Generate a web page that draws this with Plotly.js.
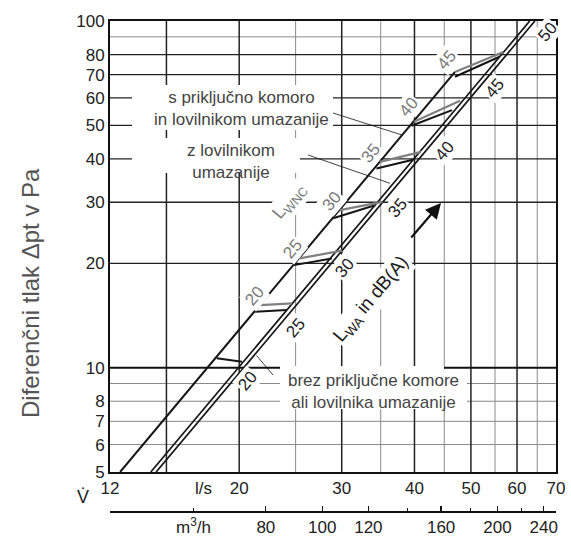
<!DOCTYPE html>
<html><head><meta charset="utf-8">
<script src="https://cdn.plot.ly/plotly-3.0.1.min.js"></script>
<style>html,body{margin:0;padding:0;background:#fff}#chart{width:571px;height:538px}</style>
</head><body><div id="chart"></div>
<script>
// ---------- data (l/s , Pa) ----------
const xTickVals = [12, 20, 30, 40, 50, 60, 70];
const yTickVals = [5, 6, 7, 8, 10, 20, 30, 40, 50, 60, 70, 80, 100];
const m3Major = [80, 100, 120, 160, 200, 240];
const m3Minor = [60, 140, 180, 220];
const gridXBlack = [15, 20, 30, 40, 50, 60];
const gridXGrey = [25, 35, 45, 55, 65];
const gridYBlack = [20, 30, 40, 50, 60, 70, 80];
const gridYHeavy = [10];
const gridYGrey = [6, 7, 8, 9, 90];

// system lines
const upperV = [12.49, 46.95];
const upperP = [5, 71.29];
const lineAV = [14.10, 63.10];
const lineAP = [5, 100];
const lineBV = [14.40, 64.40];
const lineBP = [5, 100];

// L_WNC iso-lines (grey)
const lwncLabels = ['20', '25', '30', '35', '40', '45'];
const lwncLeftV = [21.75, 25.39, 29.80, 34.90, 39.92, 46.95];
const lwncLeftP = [15.15, 20.66, 28.46, 39.23, 51.22, 71.29];
const lwncRightV = [24.65, 30.03, 35.26, 41.04, 47.89, 56.84];
const lwncRightP = [15.32, 21.75, 30.08, 41.91, 58.88, 81.38];

// L_WA iso-lines (black)
const lwaLabels = ['20', '25', '30', '35', '40', '45', '50'];
const lwaLeftV = [18.30, 21.30, 24.83, 29.00, 34.42, 39.53, 46.95];
const lwaLeftP = [10.64, 14.49, 19.76, 26.99, 37.55, 49.88, 69.05];
const lwaRightV = [20.22, 24.14, 28.84, 34.22, 39.76, 46.40, 55.99];
const lwaRightP = [10.40, 14.66, 20.66, 29.42, 39.80, 55.30, 78.86];

// ---------- layout helpers ----------
const FONT = 'Liberation Sans, Arial, sans-serif';
const W = 571, H = 538;
const L = 110, R = 15, T = 21, B = 26;
const plotBottom = 472;
const yDomLow = (H - B - plotBottom) / (H - B - T);
const PX = x => (x - L) / (W - L - R);
const PY = y => (H - B - y) / (H - B - T);

function segs(lv, lp, rv, rp) {
  const x = [], y = [];
  for (let i = 0; i < lv.length; i++) { x.push(lv[i], rv[i], null); y.push(lp[i], rp[i], null); }
  return {x, y};
}
const lwaS = segs(lwaLeftV, lwaLeftP, lwaRightV, lwaRightP);
const lwncS = segs(lwncLeftV, lwncLeftP, lwncRightV, lwncRightP);

const traces = [
  {x: upperV, y: upperP, mode: 'lines', line: {color: '#151515', width: 2}},
  {x: lineAV, y: lineAP, mode: 'lines', line: {color: '#151515', width: 1.7}},
  {x: lineBV, y: lineBP, mode: 'lines', line: {color: '#151515', width: 1.7}},
  {x: lwaS.x, y: lwaS.y, mode: 'lines', line: {color: '#151515', width: 2}, connectgaps: false},
  {x: lwncS.x, y: lwncS.y, mode: 'lines', line: {color: '#808080', width: 2.2}, connectgaps: false},
  {x: [m3Major[0]], y: [null], xaxis: 'x2', yaxis: 'y', mode: 'markers', hoverinfo: 'skip'}
].map(t => Object.assign({showlegend: false, hoverinfo: 'skip'}, t));

// ---------- shapes: grid, masks, leaders ----------
const shapes = [];
gridXGrey.forEach(v => shapes.push({type: 'line', layer: 'below', xref: 'x', yref: 'y domain', x0: v, x1: v, y0: 0, y1: 1, line: {color: '#8a8a8a', width: 1}}));
gridYGrey.forEach(v => shapes.push({type: 'line', layer: 'below', xref: 'x domain', yref: 'y', x0: 0, x1: 1, y0: v, y1: v, line: {color: '#8a8a8a', width: 1}}));
gridXBlack.forEach(v => shapes.push({type: 'line', layer: 'below', xref: 'x', yref: 'y domain', x0: v, x1: v, y0: 0, y1: 1, line: {color: '#222', width: 1.5}}));
gridYBlack.forEach(v => shapes.push({type: 'line', layer: 'below', xref: 'x domain', yref: 'y', x0: 0, x1: 1, y0: v, y1: v, line: {color: '#222', width: 1.3}}));
gridYHeavy.forEach(v => shapes.push({type: 'line', layer: 'below', xref: 'x domain', yref: 'y', x0: 0, x1: 1, y0: v, y1: v, line: {color: '#111', width: 2}}));

function mask(x0, y0, x1, y1) {
  shapes.push({type: 'rect', layer: 'below', xref: 'paper', yref: 'paper',
    x0: PX(x0), x1: PX(x1), y0: PY(y1), y1: PY(y0), fillcolor: '#fff', line: {width: 0}});
}
mask(132, 85, 333, 130);
mask(132, 138, 300, 173);
mask(280, 366, 444, 409);
mask(442, 369.2, 467, 409);

function leader(x0, y0, x1, y1) {
  shapes.push({type: 'line', layer: 'above', xref: 'paper', yref: 'paper',
    x0: PX(x0), y0: PY(y0), x1: PX(x1), y1: PY(y1), line: {color: '#111', width: 0.8}});
}
leader(333, 113, 402, 135);
leader(308, 155, 390, 183.3);
leader(273, 375, 256.5, 355.5);

// ---------- annotations ----------
const ann = [];
function txt(text, x, y, opts) {
  ann.push(Object.assign({text, xref: 'paper', yref: 'paper', x: PX(x), y: PY(y),
    showarrow: false, xanchor: 'center', yanchor: 'middle',
    font: {family: FONT, size: 17, color: '#444'}}, opts || {}));
}
txt('s priključno komoro<br>in lovilnikom umazanije', 241, 109);
txt('z lovilnikom<br>umazanije', 231, 161.5);
txt('brez priključne komore<br>ali lovilnika umazanije', 373, 391);
txt('L<sub>WNC</sub>', 290, 202, {textangle: -50, bgcolor: '#fff', font: {family: FONT, size: 18, color: '#7a7a7a'}});
txt('L<sub>WA</sub> in dB(A)', 371, 300, {textangle: -50, bgcolor: '#fff', font: {family: FONT, size: 19, color: '#1e1e1e'}});

const lwncPos = [[254, 296], [292, 249], [332, 202], [371, 154], [408, 107], [446, 60]];
const lwaPos = [[247, 381], [295, 328], [344, 268], [397, 208], [444, 151], [495, 89], [547, 32]];
lwncLabels.forEach((s, i) => txt(s, lwncPos[i][0], lwncPos[i][1], {textangle: -50, bgcolor: '#fff', font: {family: FONT, size: 17, color: '#7a7a7a'}}));
lwaLabels.forEach((s, i) => txt(s, lwaPos[i][0], lwaPos[i][1], {textangle: -50, bgcolor: '#fff', font: {family: FONT, size: 17, color: '#222'}}));

txt('l/s', 203.5, 488, {font: {family: FONT, size: 17, color: '#222'}});
txt('m<sup>3</sup>/h', 193, 526, {font: {family: FONT, size: 17, color: '#222'}});
txt('V\u0307', 83, 497, {font: {family: FONT, size: 18, color: '#222'}});
txt('Diferenčni tlak Δpt v Pa', 30, 293, {textangle: -90, font: {family: FONT, size: 24, color: '#555'}});

// arrow
ann.push({text: '', xref: 'paper', yref: 'paper', x: PX(441), y: PY(203), ax: -31, ay: 36,
  showarrow: true, arrowhead: 2, arrowsize: 1.4, arrowwidth: 2.2, arrowcolor: '#111'});

const tickFont = {family: FONT, size: 17, color: '#222'};
const layout = {
  width: W, height: H,
  margin: {l: L, r: R, t: T, b: B},
  paper_bgcolor: '#fff', plot_bgcolor: '#fff',
  showlegend: false,
  xaxis: {type: 'log', range: [Math.log10(12), Math.log10(70)], tickvals: xTickVals,
    ticktext: xTickVals.map(String), ticks: '', showgrid: false, zeroline: false,
    showline: true, mirror: true, linewidth: 2, linecolor: '#111', tickfont: tickFont, anchor: 'y'},
  xaxis2: {type: 'log', overlaying: 'x', anchor: 'free', position: 0, side: 'bottom',
    range: [Math.log10(12 * 3.6), Math.log10(70 * 3.6)], tickvals: m3Major, ticktext: m3Major.map(String),
    ticks: 'inside', ticklen: 5, tickwidth: 1.3, tickcolor: '#111', showgrid: false, zeroline: false,
    showline: true, linewidth: 2, linecolor: '#111', tickfont: tickFont,
    minor: {tickvals: m3Minor, ticks: 'inside', ticklen: 3, tickwidth: 1, tickcolor: '#111', showgrid: false}},
  yaxis: {type: 'log', range: [Math.log10(5), 2], domain: [yDomLow, 1], tickvals: yTickVals,
    ticktext: yTickVals.map(String), ticks: '', showgrid: false, zeroline: false,
    showline: true, mirror: true, linewidth: 2, linecolor: '#111', tickfont: tickFont},
  shapes: shapes,
  annotations: ann
};
Plotly.newPlot('chart', traces, layout, {staticPlot: true, displayModeBar: false});
</script></body></html>
